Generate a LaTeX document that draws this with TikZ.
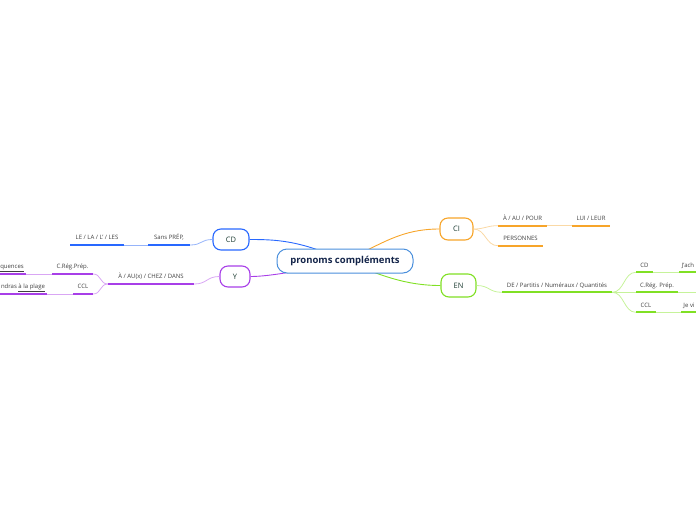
\documentclass[tikz,border=0pt]{standalone}
\usepackage{fontspec}
\setmainfont{Open Sans}
\usepackage{xcolor}
\usetikzlibrary{positioning,backgrounds}
\definecolor{cdbar}{RGB}{40,104,255}
\definecolor{cdthin}{RGB}{150,180,250}
\definecolor{ypurple}{HTML}{A83FE8}
\definecolor{ythin}{HTML}{D9A6F4}
\definecolor{ciorange}{HTML}{F7A52A}
\definecolor{cithin}{HTML}{FAD9A6}
\definecolor{engreen}{HTML}{80E024}
\definecolor{enthin}{HTML}{C6F39A}
\definecolor{rootblue}{HTML}{4A8FDC}
\definecolor{roottext}{HTML}{14254A}
\definecolor{inktext}{HTML}{1E3D33}

\begin{document}
\begin{tikzpicture}[x=1pt,y=-1pt,
  root/.style={draw=rootblue, line width=1pt, rounded corners=10pt, fill=white, minimum width=136pt, minimum height=24pt, inner sep=0pt, font=\fontsize{9.5}{10}\selectfont\bfseries, text=roottext},
  topic/.style={draw=#1, line width=1.1pt, rounded corners=8pt, fill=white, minimum height=21pt, inner sep=0pt, font=\fontsize{7.5}{8}\selectfont, text=inktext},
  sub/.style={anchor=south, minimum width=#1, inner xsep=0pt, inner ysep=5pt, text height=4.3pt, text depth=0pt, font=\fontsize{6}{7}\selectfont, text=black!75},
  link/.style={draw=#1, line width=0.9pt},
  twig/.style={draw=#1, line width=0.8pt}]
\useasboundingbox (0,0) rectangle (696,520);

\draw node (root) at (345,261) [root]{pronoms compléments};
\draw node (cd) at (231,239.5) [topic=cdbar, minimum width=36pt]{CD};
\draw node (y) at (235,276.5) [topic=ypurple, minimum width=30pt]{Y};
\draw node (ci) at (456.5,229) [topic=ciorange, minimum width=33pt, minimum height=22pt]{CI};
\draw node (en) at (458.5,285.5) [topic=engreen, minimum width=35pt, minimum height=23pt]{EN};

% CD
\draw node (cdsans) at (169,245) [sub=42pt]{Sans PRÉP,};
\draw node (cdle) at (97,245) [sub=54pt]{LE / LA / L' / LES};
% Y
\draw node (ya) at (151,284) [sub=86pt]{À / AU(x) / CHEZ / DANS};
\draw node (yreg) at (72.5,274) [sub=41pt]{C.Rég.Prép.};
\draw node (yccl) at (83,294) [sub=20pt]{CCL};
\draw node (yconseq) at (12,274) [sub=27pt]{\underline{quences}};
\draw node (yplage) at (23,294) [sub=48pt]{ndras \underline{à la plage}};
% CI
\draw node (cia) at (522.5,225.7) [sub=49pt]{À / AU / POUR};
\draw node (cilui) at (591,225.7) [sub=38pt]{LUI / LEUR};
\draw node (cipers) at (520.5,245.7) [sub=45pt]{PERSONNES};
% EN
\draw node (ende) at (557,292.3) [sub=110pt]{DE / Partitis / Numéraux / Quantités};
\draw node (encd) at (644.5,272.3) [sub=17pt]{CD};
\draw node (enach) at (688,272.3) [sub=18pt]{J'ach};
\draw node (enreg) at (657,292.3) [sub=42pt]{C.Rég. Prép.};
\draw node (enccl) at (646,312.3) [sub=20pt]{CCL};
\draw node (envi) at (689,312.3) [sub=16pt]{Je vi};
\coordinate (enedge) at (696,292.3);

\foreach \nd/\col in {cdsans/cdbar, cdle/cdbar, ya/ypurple, yreg/ypurple, yccl/ypurple, yconseq/ypurple, yplage/ypurple,
  cia/ciorange, cilui/ciorange, cipers/ciorange, ende/engreen, encd/engreen, enach/engreen, enreg/engreen, enccl/engreen, envi/engreen}
  \fill[\col] ([yshift=-0.9pt]\nd.south west) rectangle ([yshift=0.9pt]\nd.south east);

\begin{scope}[on background layer]
\draw[link=cdbar] (root.center) .. controls (300,240) and (275,239.5) .. (cd.east);
\draw[link=ypurple] (root.center) .. controls (305,270) and (270,276.5) .. (y.east);
\draw[link=ciorange] (root.center) .. controls (380,245) and (400,229) .. (ci.west);
\draw[link=engreen] (root.center) .. controls (380,275) and (405,285.5) .. (en.west);
\end{scope}

\draw[twig=cdthin] (cd.west) .. controls +(-12,0) and +(12,0) .. (cdsans.south east);
\draw[twig=cdthin] (cdsans.south west) -- (cdle.south east);

\draw[twig=ythin] (y.west) .. controls +(-13,0) and +(13,0) .. (ya.south east);
\draw[twig=ythin] (ya.south west) .. controls +(-8,0) and +(8,0) .. (yreg.south east);
\draw[twig=ythin] (ya.south west) .. controls +(-8,0) and +(8,0) .. (yccl.south east);
\draw[twig=ythin] (yreg.south west) -- (yconseq.south east);
\draw[twig=ythin] (yccl.south west) -- (yplage.south east);

\draw[twig=cithin] (ci.east) .. controls +(12,0) and +(-12,0) .. (cia.south west);
\draw[twig=cithin] (ci.east) .. controls +(12,0) and +(-12,0) .. (cipers.south west);
\draw[twig=cithin] (cia.south east) -- (cilui.south west);

\draw[twig=enthin] (en.east) .. controls +(13,0) and +(-13,0) .. (ende.south west);
\draw[twig=enthin] (ende.south east) .. controls +(12,0) and +(-12,0) .. (encd.south west);
\draw[twig=enthin] (ende.south east) -- (enreg.south west);
\draw[twig=enthin] (ende.south east) .. controls +(12,0) and +(-12,0) .. (enccl.south west);
\draw[twig=enthin] (encd.south east) -- (enach.south west);
\draw[twig=enthin] (enreg.south east) -- (enedge);
\draw[twig=enthin] (enccl.south east) -- (envi.south west);
\end{tikzpicture}
\end{document}
